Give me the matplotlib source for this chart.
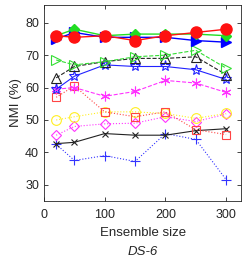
import numpy as np
import matplotlib
matplotlib.use('Agg')
import matplotlib.pyplot as plt

plt.rcParams['font.family'] = ['Liberation Sans', 'DejaVu Sans']

# tailles d'ensemble
x = [20, 50, 100, 150, 200, 250, 300]

# NMI (%) pour chaque méthode
red_circ   = [76, 75.5, 76, 74.5, 76, 77, 78]
green_diam = [76, 78, 76, 76.5, 76.5, 76.5, 76]
blue_tri   = [75, 77, 75.5, 75.5, 75.5, 74.5, 74]
green_rtri = [68.5, 67, 68, 69.5, 70, 71.5, 66]
black_tri  = [63, 66.5, 68, 69, 69, 69.5, 64]
blue_star  = [59.5, 63.5, 67, 66.5, 66.5, 65.5, 62.5]
mag_ast    = [59.5, 60, 57.3, 58.8, 62.2, 61.4, 58.5]
red_sq     = [57, 60.5, 52.5, 51, 52.5, 47, 45.5]
yel_circ   = [50, 51, 52.5, 52.5, 52, 50.5, 52]
mag_diam   = [45.3, 48, 48.8, 49, 51, 49.5, 51.8]
black_x    = [42.7, 43.1, 45.8, 45.3, 45.3, 46.7, 47.3]
blue_plus  = [42.5, 37.5, 39, 37.2, 45.8, 44, 31.6]

fig = plt.figure(figsize=(2.42, 2.59), dpi=100)
ax = fig.add_axes([0.182, 0.224, 0.815, 0.757])

ax.plot(x, blue_plus, ':', color='#3333ff', marker='+', ms=7, lw=0.8, mew=0.8)
ax.plot(x, black_x, '-', color='#222222', marker='x', ms=5, lw=0.8, mew=0.8)
ax.plot(x, mag_diam, ':', color='#ff33ff', marker='D', ms=5.5, mfc='none', lw=0.8, mew=0.8)
ax.plot(x, yel_circ, ':', color='#ffee22', marker='o', ms=7, mfc='none', lw=0.8, mew=0.8)
ax.plot(x, red_sq, ':', color='#ff4444', marker='s', ms=6, mfc='none', lw=0.8, mew=0.8)
ax.plot(x, mag_ast, '--', color='#ff33ff', marker=(6, 2, 0), ms=7, lw=0.8, mew=0.8)
ax.plot(x, blue_star, '-', color='#2222ff', marker='*', ms=8, mfc='none', lw=0.8, mew=0.8)
ax.plot(x, black_tri, '--', color='#222222', marker='^', ms=7, mfc='none', lw=0.8, mew=0.8)
ax.plot(x, green_rtri, '--', color='#33dd33', marker='>', ms=7, mfc='none', lw=0.8, mew=0.8)
ax.plot(x, blue_tri, '-', color='#0000ff', marker='>', ms=7, lw=1.0)
ax.plot(x, green_diam, '-', color='#22dd22', marker='D', ms=5.5, lw=1.0)
ax.plot(x, red_circ, '-', color='#ff1111', marker='o', ms=8, lw=1.0)

ax.set_xlim(0, 325)
ax.set_ylim(25, 85.5)
ax.set_xticks([0, 100, 200, 300])
ax.set_yticks([30, 40, 50, 60, 70, 80])
ax.tick_params(direction='in', top=True, right=True, length=3, width=0.6,
               labelsize=9, colors='#262626')
ax.tick_params(axis='x', pad=6)
for s in ax.spines.values():
    s.set_linewidth(0.6)
    s.set_color('#262626')

ax.set_xlabel('Ensemble size', fontsize=9.5, color='#262626', labelpad=4)
ax.set_ylabel('NMI (%)', fontsize=9.5, color='#262626', labelpad=2)
fig.text(0.59, 0.015, 'DS-6', fontsize=9.5, style='italic', color='#262626', ha='center')

plt.savefig('out.png', dpi=100)
